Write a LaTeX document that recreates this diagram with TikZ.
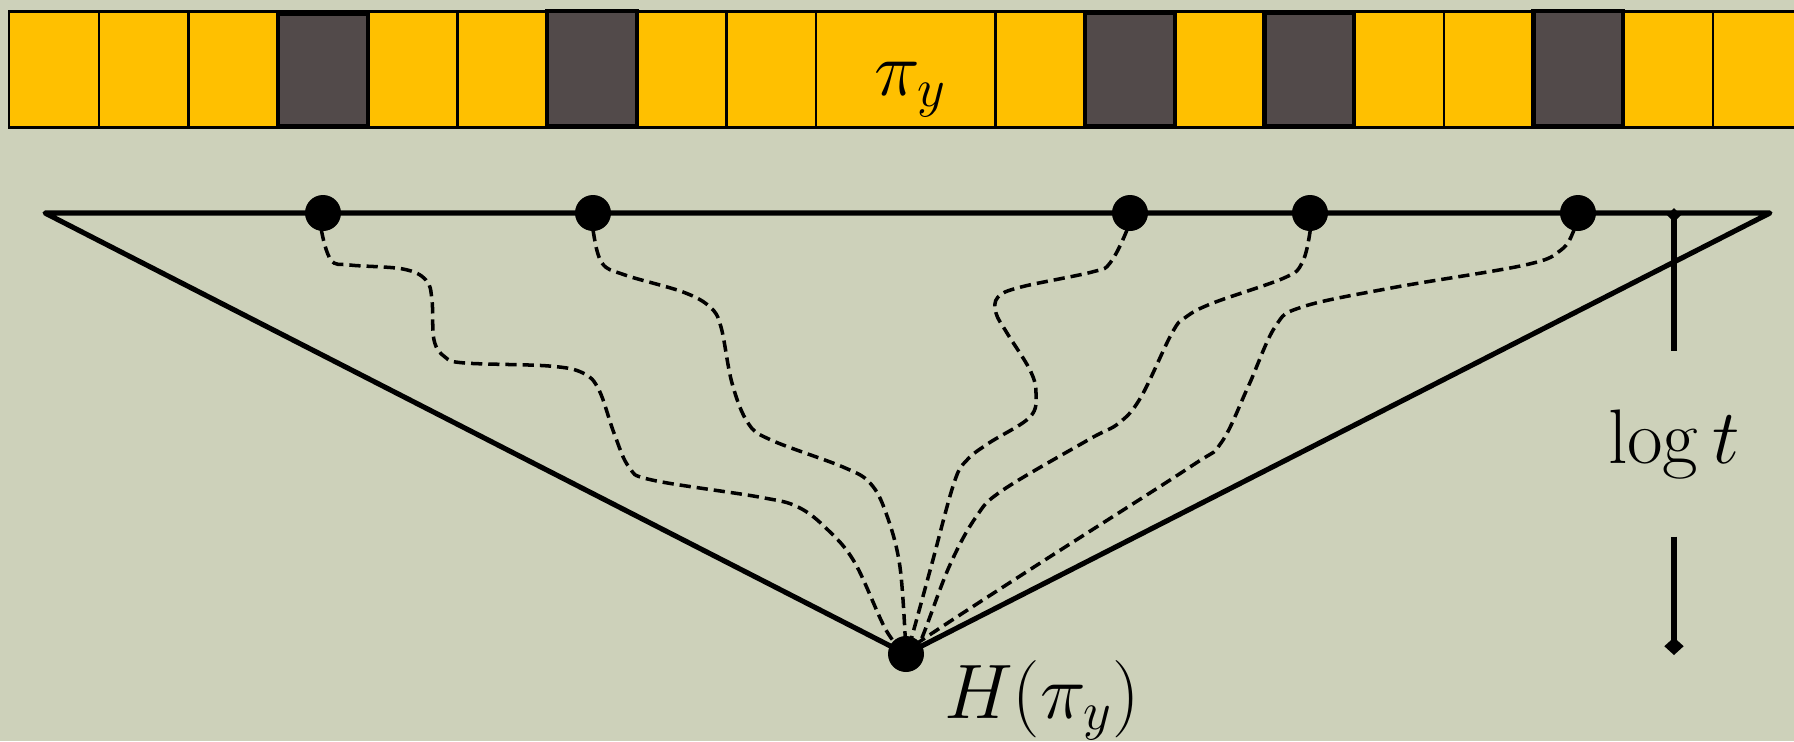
\documentclass[tikz,border=0pt]{standalone}
\usepackage{fix-cm}
\usetikzlibrary{arrows.meta}
\definecolor{slate}{RGB}{205,209,186}
\definecolor{gold}{RGB}{255,192,0}
\definecolor{ash}{RGB}{82,74,74}
\tikzset{
  cell/.style={fill=gold, draw=black, line width=0.6pt},
  taken/.style={fill=ash, draw=black, line width=1.3pt},
  leaf/.style={circle, fill=black, inner sep=0pt, minimum size=0.36cm},
  edge/.style={line width=1.45pt, line join=round},
  walk/.style={dash pattern=on 3.2pt off 1.7pt, line width=1pt},
  lbl/.style={font=\fontsize{22}{26}\selectfont, inner sep=0pt}
}

\begin{document}
\begin{tikzpicture}
\fill[slate] (0,0) rectangle (17.94,-7.41);
\useasboundingbox (0,0) rectangle (17.94,-7.41);
\clip (0,0) rectangle (17.94,-7.41);
\def\u{0.8966}
\foreach \i in {0,...,19}{
  \ifnum\i=9
    \draw[cell] (0.092+\i*\u,-0.115) rectangle ++(2*\u,-1.16);
  \else\ifnum\i=10 \else
    \draw[cell] (0.092+\i*\u,-0.115) rectangle ++(\u,-1.16);
  \fi\fi
}
\foreach \i/\t in {3/0.14, 6/0.11, 12/0.13, 14/0.13, 17/0.11}
  \draw[taken] (0.092+\i*\u,-\t) rectangle (0.092+\i*\u+\u,-1.265);
\node[lbl, anchor=base] (piy) at (9.11,-0.95) {$\pi_y$};

\coordinate (L) at (0.45,-2.13);
\coordinate (R) at (17.70,-2.13);
\node[leaf] (apex) at (9.06,-6.54) {};
\draw[edge] (L) -- (R) -- (apex.center) -- cycle;
\foreach \n/\x in {1/3.23, 2/5.93, 3/11.30, 4/13.10, 5/15.78}
  \node[leaf] (d\n) at (\x,-2.13) {};

\draw[walk] plot[smooth, tension=0.6] coordinates {(d1) (3.21,-2.28) (3.31,-2.60) (3.50,-2.65) (4.03,-2.69) (4.26,-2.80) (4.32,-3.00) (4.34,-3.40) (4.45,-3.57) (4.65,-3.63) (5.49,-3.66) (5.83,-3.73) (5.99,-3.90) (6.14,-4.33) (6.29,-4.67) (6.52,-4.80) (7.59,-4.97) (7.98,-5.07) (8.28,-5.30) (8.55,-5.63) (8.86,-6.30) (apex)};
\draw[walk] plot[smooth, tension=0.6] coordinates {(d2) (5.93,-2.30) (6.02,-2.63) (6.25,-2.75) (6.83,-2.92) (7.10,-3.07) (7.21,-3.27) (7.32,-3.83) (7.48,-4.23) (7.71,-4.40) (8.43,-4.67) (8.70,-4.83) (8.86,-5.13) (9.00,-5.67) (apex)};
\draw[walk] plot[smooth, tension=0.6] coordinates {(d3) (11.27,-2.30) (11.10,-2.63) (10.92,-2.72) (10.21,-2.87) (9.98,-2.97) (9.96,-3.13) (10.07,-3.33) (10.30,-3.70) (10.36,-3.93) (10.30,-4.17) (9.89,-4.43) (9.67,-4.60) (9.54,-4.83) (9.31,-5.67) (9.09,-6.47) (apex)};
\draw[walk] plot[smooth, tension=0.6] coordinates {(d4) (13.10,-2.32) (13.02,-2.63) (12.84,-2.78) (12.13,-3.03) (11.86,-3.17) (11.72,-3.33) (11.41,-3.97) (11.19,-4.23) (10.88,-4.40) (10.03,-4.90) (9.76,-5.17) (9.49,-5.67) (9.18,-6.47) (apex)};
\draw[walk] plot[smooth, tension=0.6] coordinates {(d5) (15.74,-2.30) (15.61,-2.50) (15.25,-2.65) (13.91,-2.88) (13.02,-3.07) (12.75,-3.27) (12.48,-3.87) (12.21,-4.43) (11.90,-4.67) (10.34,-5.67) (9.22,-6.40) (apex)};

\node[lbl, anchor=base] (hlbl) at (10.42,-7.18) {$H(\pi_y)$};

\coordinate (ttop) at (16.74,-2.08);
\coordinate (tbot) at (16.74,-6.55);
\node[lbl, minimum height=1.84cm] (logt) at (16.74,-4.44) {$\log t$};
\draw[edge, {Diamond[length=4pt,width=4pt]}-] (ttop) -- (logt);
\draw[edge, -{Diamond[length=5pt,width=5.5pt]}] (logt) -- (tbot);
\end{tikzpicture}
\end{document}
